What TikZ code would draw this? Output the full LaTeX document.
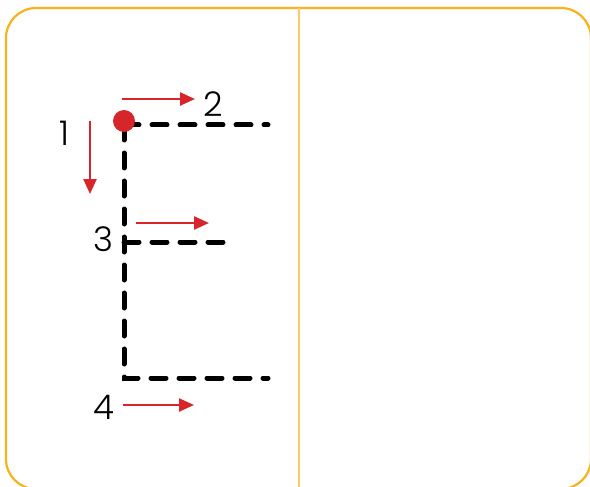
\documentclass[tikz,border=0pt]{standalone}
\usepackage{fontspec}
\setsansfont{Poppins}[UprightFont=* Light]
\usetikzlibrary{arrows.meta, positioning}

\definecolor{frameorange}{HTML}{F9B21D}
\definecolor{divideorange}{HTML}{FDC962}
\definecolor{strokered}{HTML}{D7262B}

\begin{document}
\begin{tikzpicture}[
    x=1pt, y=-1pt,
    frame/.style={
        draw=frameorange,
        line width=2.2pt,
        rounded corners=30pt
    },
    divider/.style={
        draw=divideorange,
        line width=1.6pt
    },
    guide/.style={
        draw=black,
        line width=5pt,
        line cap=round,
        dash pattern=on 15pt off 13pt
    },
    stroke/.style={
        -{Triangle[length=15pt, width=13pt]},
        line width=2.4pt,
        draw=strokered
    },
    startdot/.style={
        circle,
        fill=strokered,
        minimum size=22pt,
        inner sep=0pt
    },
    num/.style={
        font=\sffamily\fontsize{34}{34}\selectfont,
        inner sep=0pt
    }
]
    \useasboundingbox (0,0) rectangle (590,487);
    \begin{scope}
    \clip (0,0) rectangle (590,487);

    % FRAME
    \draw[frame] (6,8) rectangle (591,489);
    \draw[divider] (299,8) -- (299,487);

    % LETTER GUIDE
    \coordinate (top) at (124,125);
    \coordinate (topend) at (268,125);
    \coordinate (midleft) at (124,242);
    \coordinate (midend) at (226,242);
    \coordinate (corner) at (124,378);
    \coordinate (botend) at (268,378);

    \draw[guide] (top) -- (topend);
    \draw[guide] (top) -- (corner) -- (botend);
    \draw[guide] (midleft) -- (midend);

    \node[startdot] (start) at (124,121) {};

    % STROKE ORDER
    \node[num] (n1) at (64,133) {1};
    \node[num] (n2) at (213,104) {2};
    \node[num] (n3) at (103,239) {3};
    \node[num] (n4) at (104,407) {4};

    \coordinate (s1a) at (90,121);
    \coordinate (s1b) at (90,194);
    \coordinate (s2a) at (122,99);
    \coordinate (s2b) at (195,99);
    \coordinate (s3a) at (136,223);
    \coordinate (s3b) at (209,223);
    \coordinate (s4a) at (123,405);
    \coordinate (s4b) at (194,405);

    \draw[stroke] (s1a) -- (s1b);
    \draw[stroke] (s2a) -- (s2b);
    \draw[stroke] (s3a) -- (s3b);
    \draw[stroke] (s4a) -- (s4b);
    \end{scope}

\end{tikzpicture}
\end{document}
